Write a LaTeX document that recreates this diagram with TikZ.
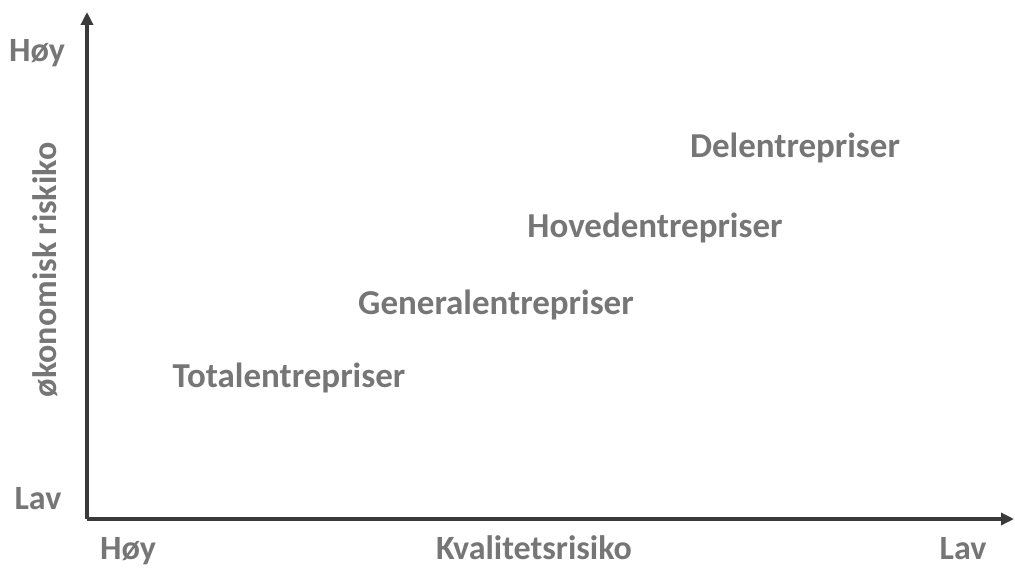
\documentclass[tikz,border=0pt]{standalone}
\usepackage{fontspec}
\setmainfont{Carlito}
\usetikzlibrary{arrows.meta}
\definecolor{labelgray}{HTML}{767676}
\definecolor{axisgray}{HTML}{3A3A3A}
\begin{document}
\begin{tikzpicture}[x=1pt,y=-1pt,
  axis/.style={draw=axisgray,line width=3.5pt,-{Triangle[length=13pt,width=12pt]}},
  lbl/.style={text=labelgray,font=\fontsize{35}{38}\selectfont\bfseries,inner sep=0pt},
  tick/.style={text=labelgray,font=\fontsize{34}{37}\selectfont\bfseries,inner sep=0pt,anchor=base}]
\useasboundingbox (0,0) rectangle (1015,569);
\coordinate (origin) at (87,519);
\coordinate (ytop) at (87,12);
\coordinate (xend) at (1014,519);
\draw[axis] (origin) -- (ytop);
\draw[axis] (origin) -- (xend);
% axis labels, set on their baselines
\node[tick] (yhigh) at (37,62) {Høy};
\node[tick] (ylow) at (38,509) {Lav};
\node[tick] (xhigh) at (128,559) {Høy};
\node[tick] (xlow) at (963,559) {Lav};
\node[tick] (xname) at (534,559) {Kvalitetsrisiko};
\node[tick,anchor=center,rotate=90] (yname) at (45,270) {økonomisk riskiko};
% contract forms
\node[lbl] (del) at (795,148) {Delentrepriser};
\node[lbl] (hov) at (655,228) {Hovedentrepriser};
\node[lbl] (gen) at (496,305) {Generalentrepriser};
\node[lbl] (tot) at (289,378) {Totalentrepriser};
\end{tikzpicture}
\end{document}
